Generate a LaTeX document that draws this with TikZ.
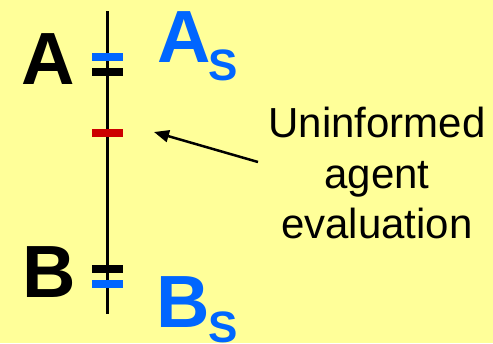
\documentclass[tikz,border=0pt]{standalone}
\usepackage{fontspec}
\setmainfont{Liberation Sans}
\usetikzlibrary{arrows.meta}
\definecolor{bgyellow}{HTML}{FFFF99}
\definecolor{sblue}{HTML}{0066FF}
\definecolor{sred}{HTML}{CC0000}
\begin{document}
\begin{tikzpicture}[x=1pt,y=-1pt,
  tick/.style={fill=#1,draw=none,minimum width=31pt,minimum height=8pt,inner sep=0pt,outer sep=0pt},
  big/.style={inner sep=0pt,outer sep=0pt,anchor=base west,font=\fontsize{74}{74}\selectfont\bfseries},
  sub/.style={inner sep=0pt,outer sep=0pt,anchor=base west,font=\fontsize{44}{44}\selectfont\bfseries,text=sblue},
  lbl/.style={inner sep=0pt,outer sep=0pt,anchor=base,font=\fontsize{42}{50}\selectfont}]
\fill[bgyellow] (0,0) rectangle (493,343);
\useasboundingbox (0,0) rectangle (493,343);
% axis
\coordinate (top) at (107,11);
\coordinate (bot) at (107,314);
\draw[line width=3pt] (top) -- (bot);
% ticks
\node[tick=sblue] (tAs) at (107,57) {};
\node[tick=black] (tA) at (107,72) {};
\node[tick=sred] (tU) at (107,133) {};
\node[tick=black] (tB) at (107,269) {};
\node[tick=sblue] (tBs) at (107,284) {};
% letters
\node[big] (A) at (21,84) {A};
\node[big] (B) at (22,297) {B};
\node[big,text=sblue] (As) at (157,62) {A};
\node[sub] (As2) at (208,80) {S};
\node[big,text=sblue] (Bs) at (156,327) {B};
\node[sub] (Bs2) at (208,342) {S};
% label
\node[lbl] (l1) at (377,137) {Uninformed};
\node[lbl] (l2) at (377,188) {agent};
\node[lbl] (l3) at (377,238) {evaluation};
\coordinate (from) at (258,162);
\coordinate (to) at (154,132);
\draw[line width=2.5pt,-{Triangle[length=15pt,width=12pt]}] (from) -- (to);
\end{tikzpicture}
\end{document}
